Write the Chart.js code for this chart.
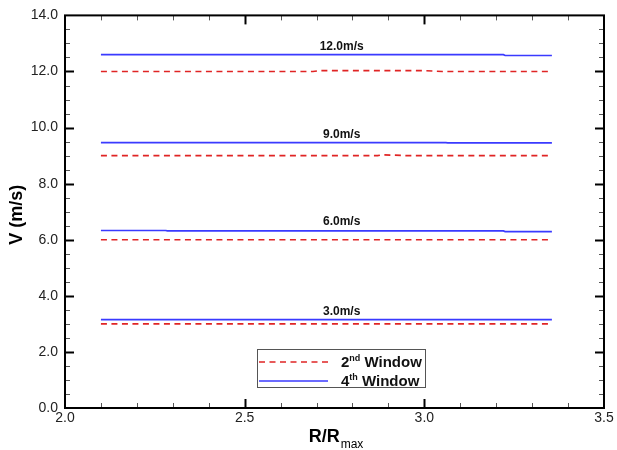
<!DOCTYPE html>
<html>
<head>
<meta charset="utf-8">
<script src="https://cdn.jsdelivr.net/npm/chart.js@4/dist/chart.umd.min.js"></script>
<style>
html,body{margin:0;padding:0;background:#fff;}
#wrap{width:617px;height:450px;position:relative;}
</style>
</head>
<body>
<div id="wrap"><canvas id="c" width="617" height="450"></canvas></div>
<script>
// ---- data ----
const speedLabels = ['3.0m/s', '6.0m/s', '9.0m/s', '12.0m/s'];
const yTickValues = [0, 2, 4, 6, 8, 10, 12, 14];
const xTickValues = [2.0, 2.5, 3.0, 3.5];

// 2nd Window (red dashed)
const w2_v3_x  = [2.1, 3.355];
const w2_v3_y  = [3.0, 3.0];
const w2_v6_x  = [2.1, 3.355];
const w2_v6_y  = [6.0, 6.0];
const w2_v9_x  = [2.1, 2.87, 2.885, 2.95, 3.355];
const w2_v9_y  = [9.0, 9.0, 9.03, 9.0, 9.0];
const w2_v12_x = [2.1, 2.69, 2.71, 3.0, 3.05, 3.355];
const w2_v12_y = [12.0, 12.0, 12.03, 12.03, 12.0, 12.0];

// 4th Window (blue solid)
const w4_v3_x  = [2.1, 3.355];
const w4_v3_y  = [3.15, 3.15];
const w4_v6_x  = [2.1, 2.28, 2.285, 3.22, 3.225, 3.355];
const w4_v6_y  = [6.33, 6.33, 6.315, 6.315, 6.29, 6.29];
const w4_v9_x  = [2.1, 3.06, 3.065, 3.355];
const w4_v9_y  = [9.465, 9.465, 9.455, 9.455];
const w4_v12_x = [2.1, 3.22, 3.225, 3.355];
const w4_v12_y = [12.6, 12.6, 12.57, 12.57];

const legendLabels = [['2', 'nd', ' Window'], ['4', 'th', ' Window']];

// ---- build ----
function pts(xs, ys) { return xs.map((x, i) => ({x: x, y: ys[i]})); }
const RED = '#e02424';
const BLUE = '#3a3aff';
const FONT = '"Liberation Sans", Arial, Helvetica, sans-serif';

const redSets = [[w2_v3_x, w2_v3_y], [w2_v6_x, w2_v6_y], [w2_v9_x, w2_v9_y], [w2_v12_x, w2_v12_y]];
const blueSets = [[w4_v3_x, w4_v3_y], [w4_v6_x, w4_v6_y], [w4_v9_x, w4_v9_y], [w4_v12_x, w4_v12_y]];

const datasets = [];
redSets.forEach((s, i) => datasets.push({
  label: '2nd Window', data: pts(s[0], s[1]), borderColor: RED, borderWidth: 1.7,
  borderDash: [6, 4.5], pointRadius: 0, tension: 0, fill: false
}));
blueSets.forEach((s, i) => datasets.push({
  label: '4th Window', data: pts(s[0], s[1]), borderColor: BLUE, borderWidth: 1.7,
  pointRadius: 0, tension: 0, fill: false
}));

const decor = {
  id: 'decor',
  afterDraw(chart) {
    const ctx = chart.ctx;
    const a = chart.chartArea;
    const xs = chart.scales.x, ys = chart.scales.y;
    ctx.save();
    function tickLine(x1, y1, x2, y2, major) {
      ctx.beginPath();
      ctx.strokeStyle = major ? '#000' : '#555';
      ctx.lineWidth = major ? 2 : 1;
      ctx.moveTo(x1, y1); ctx.lineTo(x2, y2); ctx.stroke();
    }
    for (let k = 1; k < 28; k++) {
      const v = k * 0.5;
      const major = (k % 4 === 0);
      const len = major ? 9 : 5;
      const py = Math.round(ys.getPixelForValue(v)) + 0.5;
      tickLine(a.left, py, a.left + len, py, major);
      tickLine(a.right, py, a.right - len, py, major);
    }
    for (let k = 1; k < 15; k++) {
      const v = 2 + k * 0.1;
      const major = (k % 5 === 0);
      const len = major ? 9 : 5;
      const px = Math.round(xs.getPixelForValue(v)) + 0.5;
      tickLine(px, a.bottom, px, a.bottom - len, major);
      tickLine(px, a.top, px, a.top + len, major);
    }
    ctx.strokeStyle = '#000';
    ctx.lineWidth = 2;
    ctx.strokeRect(a.left, a.top, a.right - a.left, a.bottom - a.top);

    ctx.fillStyle = '#111';
    ctx.font = 'bold 12px ' + FONT;
    ctx.textAlign = 'center';
    ctx.textBaseline = 'alphabetic';
    const labelXs = xs.getPixelForValue(2.77);
    blueSets.forEach((s, i) => {
      const py = ys.getPixelForValue(s[1][0]);
      ctx.fillText(speedLabels[i], labelXs, py - 5);
    });

    ctx.fillStyle = '#000';
    ctx.font = 'bold 18px ' + FONT;
    ctx.save();
    ctx.translate(22, (a.top + a.bottom) / 2 + 3);
    ctx.rotate(-Math.PI / 2);
    ctx.textAlign = 'center';
    ctx.fillText('V (m/s)', 0, 0);
    ctx.restore();

    ctx.textAlign = 'left';
    const t1 = 'R/R', t2 = 'max';
    ctx.font = 'bold 18px ' + FONT;
    const w1 = ctx.measureText(t1).width;
    ctx.font = '12px ' + FONT;
    const w2 = ctx.measureText(t2).width;
    const cx = (a.left + a.right) / 2 + 1;
    const sx = cx - (w1 + w2) / 2;
    ctx.font = 'bold 18px ' + FONT;
    ctx.fillText(t1, sx, 442);
    ctx.font = '12px ' + FONT;
    ctx.fillText(t2, sx + w1 + 1, 448);

    const lx = 257, ly = 349, lw = 168, lh = 38;
    ctx.fillStyle = '#fff';
    ctx.fillRect(lx, ly, lw, lh);
    ctx.strokeStyle = '#555';
    ctx.lineWidth = 1;
    ctx.strokeRect(lx + 0.5, ly + 0.5, lw, lh);
    const rows = [{c: RED, dash: [6, 4.5], y: 362}, {c: BLUE, dash: [], y: 381}];
    rows.forEach((r, i) => {
      ctx.beginPath();
      ctx.setLineDash(r.dash);
      ctx.strokeStyle = r.c;
      ctx.lineWidth = 1.7;
      ctx.moveTo(lx + 2, r.y); ctx.lineTo(lx + 71, r.y); ctx.stroke();
      ctx.setLineDash([]);
      const parts = legendLabels[i];
      let tx = 341;
      const by = r.y + 5;
      ctx.fillStyle = '#111';
      ctx.font = 'bold 15px ' + FONT;
      ctx.fillText(parts[0], tx, by); tx += ctx.measureText(parts[0]).width;
      ctx.font = 'bold 9px ' + FONT;
      ctx.fillText(parts[1], tx, by - 6); tx += ctx.measureText(parts[1]).width;
      ctx.font = 'bold 15px ' + FONT;
      ctx.fillText(parts[2], tx, by);
    });
    ctx.restore();
  }
};

new Chart(document.getElementById('c'), {
  type: 'line',
  data: { datasets: datasets },
  options: {
    responsive: false,
    animation: false,
    layout: { padding: { top: 15, right: 13, left: 0, bottom: 0 } },
    plugins: { legend: { display: false }, tooltip: { enabled: false } },
    scales: {
      x: {
        type: 'linear', min: 2.0, max: 3.5,
        grid: { display: false, drawTicks: false }, border: { display: false },
        afterBuildTicks(s) { s.ticks = xTickValues.map(v => ({value: v})); },
        afterFit(s) { s.height = 42; },
        ticks: {
          padding: 2, color: '#222', font: { family: FONT, size: 14 },
          callback: v => Number(v).toFixed(1), maxRotation: 0, autoSkip: false
        }
      },
      y: {
        type: 'linear', min: 0, max: 14,
        grid: { display: false, drawTicks: false }, border: { display: false },
        afterBuildTicks(s) { s.ticks = yTickValues.map(v => ({value: v})); },
        afterFit(s) { s.width = 65; },
        ticks: {
          padding: 7, color: '#222', font: { family: FONT, size: 14 },
          callback: v => Number(v).toFixed(1), autoSkip: false
        }
      }
    }
  },
  plugins: [decor]
});
</script>
</body>
</html>
